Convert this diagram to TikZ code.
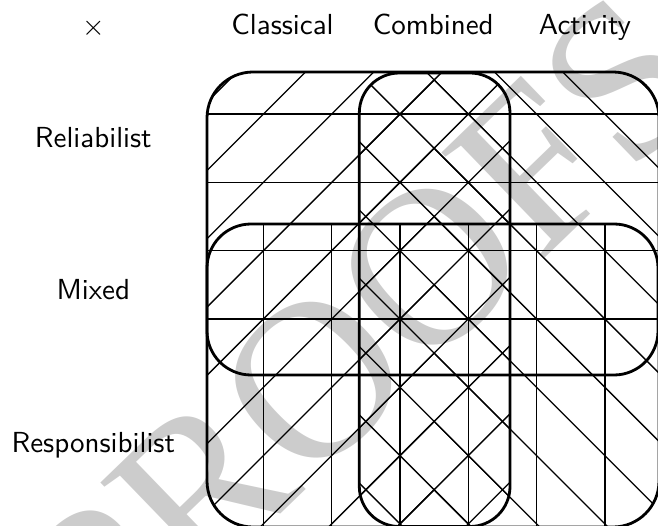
\RequirePackage{fix-cm}
\documentclass[tikz,border=0pt]{standalone}
\usepackage{fontspec}
\newfontfamily\wmfont{Liberation Serif}
\newfontfamily\lmss{lmsans10-regular.otf}
\newcommand\NELines{\foreach \k in {-6,...,8}{\pgfmathsetmacro\cc{650.7+68.3*\k}\draw[patline] (150,{\cc-150}) -- (720,{\cc-720});}}
\newcommand\NWLines{\foreach \k in {-8,...,7}{\pgfmathsetmacro\cc{149.3+68.3*\k}\draw[patline] (150,{150-\cc}) -- (720,{720-\cc});}}
\newcommand\HLines{\foreach \k in {-3,...,3}{\pgfmathsetmacro\cc{250.7+68.3*\k}\draw[patline] (150,\cc) -- (720,\cc);}}
\newcommand\VLines{\foreach \k in {-3,...,4}{\pgfmathsetmacro\cc{400+68.3*\k}\draw[patline] (\cc,20) -- (\cc,600);}}
\tikzset{
  patline/.style={line width=1.3pt, black},
  outline/.style={line width=2.8pt, black},
  lbl/.style={font=\lmss\fontsize{29}{34}\selectfont, inner sep=0pt, anchor=base},
}
\begin{document}
\begin{tikzpicture}[x=1pt,y=-1pt,line join=round]
\useasboundingbox (0,0) rectangle (658,526);
% watermark
\node[font=\wmfont\fontsize{225}{225}\selectfont, text=black!20, rotate=44, inner sep=0pt] (wm) at (363,332) {PROOFS};
% patterns, all inside the big frame
\begin{scope}
  \clip[rounded corners=46pt] (207,72) rectangle (659,527);
  % north-east lines: left of the combined column's right side
  \begin{scope}\clip (0,0) rectangle (434.6,600); \NELines \end{scope}
  \begin{scope}\clip[rounded corners=40pt] (359.3,73) rectangle (510,526.5); \NELines \end{scope}
  % north-west lines: right of the combined column's left side
  \begin{scope}\clip (434.6,0) rectangle (720,600); \NWLines \end{scope}
  \begin{scope}\clip[rounded corners=40pt] (359.3,73) rectangle (510,526.5); \NWLines \end{scope}
  % horizontal lines: above the mixed row's bottom side
  \begin{scope}\clip (0,0) rectangle (720,299.5); \HLines \end{scope}
  \begin{scope}\clip[rounded corners=44pt] (207,224) rectangle (658,375); \HLines \end{scope}
  % vertical lines: below the mixed row's top side
  \begin{scope}\clip (0,299.5) rectangle (720,600); \VLines \end{scope}
  \begin{scope}\clip[rounded corners=44pt] (207,224) rectangle (658,375); \VLines \end{scope}
\end{scope}
% outlines
\draw[outline, rounded corners=46pt] (207,72) rectangle (659,527);
\draw[outline, rounded corners=40pt] (359.3,73) rectangle (510,526.5);
\draw[outline, rounded corners=44pt] (207,224) rectangle (658,375);
% labels
\node[font=\fontsize{29}{34}\selectfont, inner sep=0pt] (times) at (93.3,28.3) {$\times$};
\node[lbl] (classical) at (282.5,35) {Classical};
\node[lbl] (combined) at (433.3,35) {Combined};
\node[lbl] (activity) at (585,35) {Activity};
\node[lbl] (reliabilist) at (93.3,147.3) {Reliabilist};
\node[lbl] (mixed) at (93.3,299.3) {Mixed};
\node[lbl] (responsibilist) at (93.3,452.3) {Responsibilist};
\end{tikzpicture}
\end{document}
